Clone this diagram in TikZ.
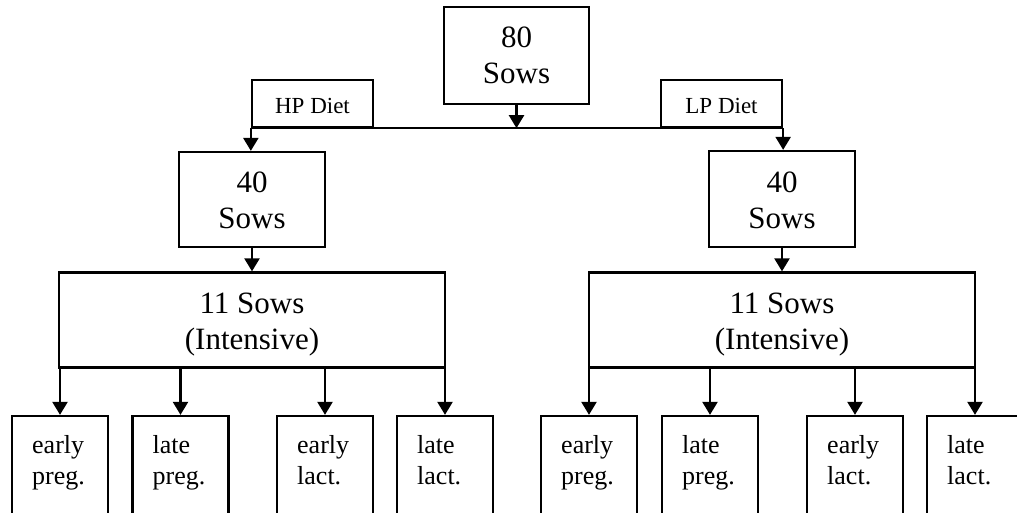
\documentclass[tikz,border=0pt]{standalone}
\usepackage{fontspec}
\setmainfont{Liberation Serif}
\usetikzlibrary{arrows.meta}
% two-line labels whose baseline is that of the first line
\newcommand{\stackc}[2]{\begin{tabular}[t]{@{}c@{}}#1\\#2\end{tabular}}
\newcommand{\stackl}[2]{\begin{tabular}[t]{@{}l@{}}#1\\#2\end{tabular}}

\begin{document}
\begin{tikzpicture}[x=1pt,y=-1pt,
  box/.style={draw, line width=2.3pt, inner sep=0pt, rectangle},
  big/.style={inner sep=0pt, anchor=base, font=\fontsize{31}{36}\selectfont},
  mid/.style={inner sep=0pt, anchor=base, font=\fontsize{23}{28}\selectfont},
  small/.style={inner sep=0pt, anchor=base west, font=\fontsize{26}{31}\selectfont},
  link/.style={line width=2.3pt},
  arr/.style={line width=2.3pt, -{Triangle[width=15pt,length=13pt]}}]

\fill[white] (0,0) rectangle (1017,512);
\useasboundingbox (0,0) rectangle (1017,512);
\clip (0,0) rectangle (1017,512);

% top level
\node[box, minimum width=145pt, minimum height=97pt] (all) at (516.5,55.5) {};
\node[big] (allT) at (516.5,47) {\stackc{80}{Sows}};

% diet labels sitting on the split line
\node[box, minimum width=121pt, minimum height=47pt] (hp) at (312.5,103.5) {};
\node[mid] (hpT) at (312.5,113) {HP Diet};
\node[box, minimum width=121pt, minimum height=47pt] (lp) at (721.5,103.5) {};
\node[mid] (lpT) at (721.5,113) {LP Diet};

% diet groups
\node[box, minimum width=146pt, minimum height=95pt] (l40) at (252,199.5) {};
\node[big] (l40T) at (252,192) {\stackc{40}{Sows}};
\node[box, minimum width=146pt, minimum height=96pt] (r40) at (782,199) {};
\node[big] (r40T) at (782,192) {\stackc{40}{Sows}};

% intensive subgroups
\node[box, minimum width=386pt, minimum height=95pt] (l11) at (252,320) {};
\node[big] (l11T) at (252,313) {\stackc{11 Sows}{(Intensive)}};
\node[box, minimum width=386pt, minimum height=95pt] (r11) at (782,320) {};
\node[big] (r11T) at (782,313) {\stackc{11 Sows}{(Intensive)}};

% sampling stages
\foreach \n/\cx/\a/\b in {la/60/early/preg., lb/180.5/late/preg., lc/325/early/lact., ld/445/late/lact.,
                          ra/589/early/preg., rb/710/late/preg., rc/855/early/lact., rd/975/late/lact.}{
  \node[box, minimum width=96pt, minimum height=120pt] (\n) at (\cx,476) {};
  \node[small] (\n T) at (\cx-28,453) {\stackl{\a}{\b}};
}

% connectors
\draw[link] (hp.south west) -- (lp.south east);
\draw[arr] (all.south) -- (all.south |- hp.south);
\draw[arr] (hp.south west) -- (hp.south west |- l40.north);
\draw[arr] (lp.south east) -- (lp.south east |- r40.north);
\draw[arr] (l40.south) -- (l40.south |- l11.north);
\draw[arr] (r40.south) -- (r40.south |- r11.north);

\foreach \s/\n in {l11/la, l11/lb, l11/lc, l11/ld, r11/ra, r11/rb, r11/rc, r11/rd}{
  \draw[arr] (\n.north |- \s.south) -- (\n.north);
}
\end{tikzpicture}
\end{document}
